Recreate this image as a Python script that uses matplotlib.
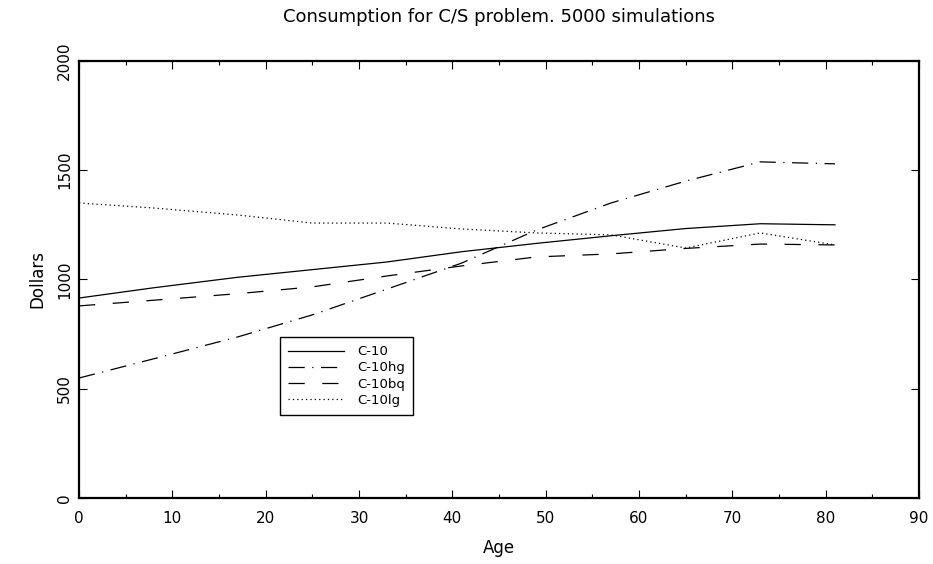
import matplotlib.pyplot as plt
from matplotlib.ticker import MultipleLocator

# ages at which the simulated consumption was recorded
ages = [0, 8, 17, 25, 33, 41, 49, 57, 65, 73, 81]

c10 = [915, 962, 1010, 1045, 1080, 1127, 1165, 1200, 1233, 1255, 1250]
c10hg = [549, 637, 737, 838, 956, 1075, 1226, 1350, 1450, 1538, 1529]
c10bq = [879, 905, 935, 966, 1016, 1062, 1103, 1117, 1142, 1162, 1158]
c10lg = [1350, 1327, 1295, 1258, 1258, 1231, 1213, 1204, 1144, 1213, 1158]

plt.rcParams['font.family'] = 'DejaVu Sans'

fig = plt.figure(figsize=(9.33, 5.64), dpi=100)
ax = fig.add_axes([0.0847, 0.117, 0.9003, 0.775])

ax.plot(ages, c10, color='black', lw=0.9, label='C-10')
ax.plot(ages, c10hg, color='black', lw=0.9, linestyle=(0, (13, 6, 1, 6)), label='C-10hg')
ax.plot(ages, c10bq, color='black', lw=0.9, linestyle=(0, (13, 14)), label='C-10bq')
ax.plot(ages, c10lg, color='black', lw=0.9, linestyle=(0, (1, 2.5)), label='C-10lg')

ax.set_xlim(0, 90)
ax.set_ylim(0, 2000)
ax.xaxis.set_major_locator(MultipleLocator(10))
ax.xaxis.set_minor_locator(MultipleLocator(5))
ax.yaxis.set_major_locator(MultipleLocator(500))
ax.tick_params(which='both', direction='in', top=True, right=True, labelsize=11, width=0.8)
ax.tick_params(which='major', length=6)
ax.tick_params(which='minor', length=3)
ax.tick_params(axis='x', pad=9)
ax.tick_params(axis='y', pad=5)
for lab in ax.get_yticklabels():
    lab.set_rotation(90)
    lab.set_va('center')
for s in ax.spines.values():
    s.set_linewidth(1.6)

ax.set_xlabel('Age', fontsize=12, labelpad=10)
ax.set_ylabel('Dollars', fontsize=12, labelpad=8)
ax.set_title('Consumption for C/S problem. 5000 simulations', fontsize=13, pad=28)

leg = ax.legend(loc='lower left', bbox_to_anchor=(0.239, 0.19), fontsize=9.5,
                handlelength=4.3, handletextpad=1.0, fancybox=False, framealpha=1,
                edgecolor='black', borderpad=0.6, labelspacing=0.25,
                borderaxespad=0)
leg.get_frame().set_linewidth(1.0)

fig.savefig('out.png', dpi=100)
